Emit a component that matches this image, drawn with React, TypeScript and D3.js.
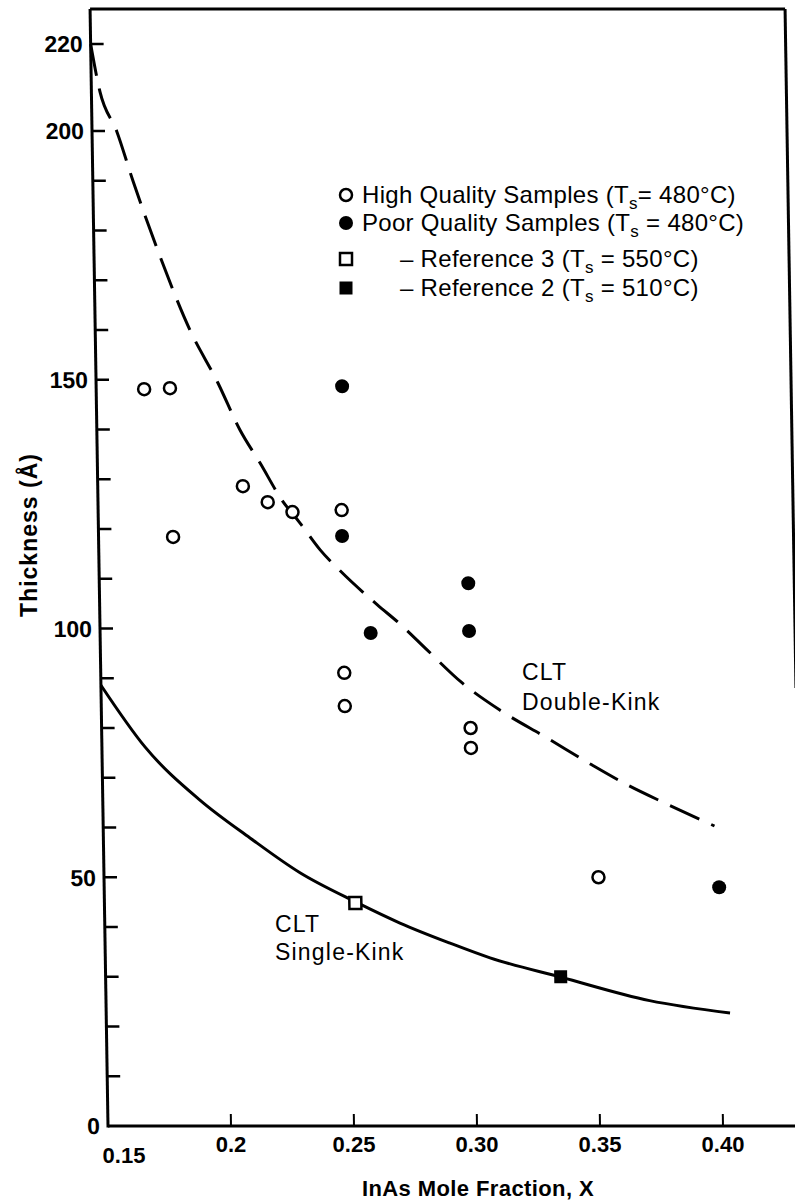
import React from "react";
import * as d3 from "d3";

// ---- data ----
const xTickValues = [0.2, 0.25, 0.3, 0.35, 0.4];
const xTickLabels = ["0.2", "0.25", "0.30", "0.35", "0.40"];
const yTickValues = [10, 20, 30, 40, 50, 60, 70, 80, 90, 100, 110, 120, 130, 140, 150, 160, 170, 180, 190, 200, 220];
const yLabelValues = [0, 50, 100, 150, 200, 220];

const highX = [0.1695, 0.18, 0.1803, 0.209, 0.219, 0.229, 0.249, 0.249, 0.249, 0.3, 0.3, 0.351];
const highY = [148.1, 148.3, 118.4, 128.6, 125.4, 123.4, 123.8, 91.1, 84.4, 80.0, 76.0, 50.0];

const poorX = [0.25, 0.249, 0.26, 0.3, 0.3, 0.4];
const poorY = [148.7, 118.6, 99.1, 109.1, 99.5, 48.0];

const ref3X = [0.252];
const ref3Y = [44.8];
const ref2X = [0.335];
const ref2Y = [30.0];

const doubleX = [0.15, 0.1535, 0.16, 0.1663, 0.1756, 0.1885, 0.1996, 0.2082, 0.2161, 0.2248, 0.232, 0.24, 0.248, 0.2628, 0.272, 0.2828, 0.297, 0.312, 0.331, 0.349, 0.3636, 0.3785, 0.3985];
const doubleY = [220, 209, 200, 190, 176.5, 160, 149.3, 139.9, 133.3, 125.8, 121.2, 115.8, 111.6, 104.8, 100.9, 95.7, 89.0, 83.6, 78.0, 72.6, 68.5, 64.9, 60.3];

const singleX = [0.15, 0.1675, 0.1895, 0.2096, 0.2297, 0.2523, 0.27, 0.29, 0.3064, 0.3352, 0.371, 0.4036];
const singleY = [88.6, 76.2, 65.5, 57.9, 50.9, 45.0, 40.8, 36.8, 33.8, 29.9, 25.2, 22.7];

// ---- scales ----
const x = d3.scaleLinear().domain([0.15, 0.4]).range([108, 723]);
const y = d3.scaleLinear().domain([0, 200, 220]).range([1126, 131, 44]);

const X0 = 108;
const Y0 = 1126;
const TOP = 9;
const RIGHT = 803;

const lineGen = (xs: number[], ys: number[]) =>
  d3
    .line<number>()
    .x((_, i) => x(xs[i]))
    .y((_, i) => y(ys[i]))
    .curve(d3.curveMonotoneX)(xs.map((_, i) => i)) || "";

const FONT = "'Liberation Sans', Arial, Helvetica, sans-serif";

function LegendRow({ yb, marker, text, sub, rest, textX }: any) {
  const mx = 346;
  const my = yb - 8;
  let m = null;
  if (marker === "open") m = <circle cx={mx} cy={my} r={6} fill="#fff" stroke="#000" strokeWidth={2.5} />;
  if (marker === "filled") m = <circle cx={mx} cy={my} r={7} fill="#000" />;
  if (marker === "osq") m = <rect x={mx - 6} y={my - 6} width={12} height={12} fill="#fff" stroke="#000" strokeWidth={2.5} />;
  if (marker === "fsq") m = <rect x={mx - 6.5} y={my - 6.5} width={13} height={13} fill="#000" />;
  return (
    <g>
      {m}
      <text x={textX} y={yb} fontFamily={FONT} fontSize={24} letterSpacing={0.3} fill="#000">
        {text}
        <tspan fontSize={17} dy={6}>{sub}</tspan>
        <tspan dy={-6}>{rest}</tspan>
      </text>
    </g>
  );
}

export default function App() {
  const shear = `translate(0,${Y0}) skewX(0.92) translate(0,${-Y0})`;
  return (
    <svg
      width={795}
      height={1201}
      viewBox="0 0 795 1201"
      style={{ position: "absolute", left: 0, top: 0, display: "block", background: "#fff" }}
    >
      <rect x={0} y={0} width={795} height={1201} fill="#fff" />
      <g transform={shear}>
        {/* frame */}
        <line x1={X0} y1={TOP} x2={X0} y2={Y0 + 1.5} stroke="#000" strokeWidth={3} />
        <line x1={X0} y1={Y0} x2={820} y2={Y0} stroke="#000" strokeWidth={3} />
        <line x1={X0} y1={TOP} x2={RIGHT} y2={TOP} stroke="#000" strokeWidth={3} />
        <line x1={RIGHT} y1={TOP} x2={RIGHT} y2={688} stroke="#000" strokeWidth={3} />

        {/* y ticks */}
        {yTickValues.map((v) => (
          <line key={"yt" + v} x1={X0} x2={X0 + 13} y1={y(v)} y2={y(v)} stroke="#000" strokeWidth={2.5} />
        ))}
        {yLabelValues.map((v) => (
          <text
            key={"yl" + v}
            x={X0 - 8}
            y={y(v)}
            dy="0.36em"
            textAnchor="end"
            fontFamily={FONT}
            fontWeight="bold"
            fontSize={23}
            fill="#000"
          >
            {v}
          </text>
        ))}

        {/* x ticks */}
        {xTickValues.map((v) => (
          <line key={"xt" + v} x1={x(v)} x2={x(v)} y1={Y0} y2={Y0 - 12} stroke="#000" strokeWidth={2} />
        ))}

        {/* curves */}
        <path d={lineGen(doubleX, doubleY)} fill="none" stroke="#000" strokeWidth={3} strokeDasharray="32,13" />
        <path d={lineGen(singleX, singleY)} fill="none" stroke="#000" strokeWidth={3} />

        {/* points */}
        {highX.map((v, i) => (
          <circle key={"h" + i} cx={x(v)} cy={y(highY[i])} r={6} fill="#fff" stroke="#000" strokeWidth={2.5} />
        ))}
        {poorX.map((v, i) => (
          <circle key={"p" + i} cx={x(v)} cy={y(poorY[i])} r={7} fill="#000" />
        ))}
        {ref3X.map((v, i) => (
          <rect key={"r3" + i} x={x(v) - 6} y={y(ref3Y[i]) - 6} width={12} height={12} fill="#fff" stroke="#000" strokeWidth={2.5} />
        ))}
        {ref2X.map((v, i) => (
          <rect key={"r2" + i} x={x(v) - 6.5} y={y(ref2Y[i]) - 6.5} width={13} height={13} fill="#000" />
        ))}
      </g>

      {/* x tick labels */}
      {xTickLabels.map((t, i) => (
        <text
          key={"xl" + t}
          x={x(xTickValues[i])}
          y={1152}
          textAnchor="middle"
          fontFamily={FONT}
          fontWeight="bold"
          fontSize={22}
          fill="#000"
        >
          {t}
        </text>
      ))}
      <text x={x(0.15) + 16} y={1163} textAnchor="middle" fontFamily={FONT} fontWeight="bold" fontSize={22} fill="#000">
        0.15
      </text>

      {/* axis titles */}
      <text x={478} y={1196} textAnchor="middle" fontFamily={FONT} fontWeight="bold" fontSize={22} letterSpacing={0.4} fill="#000">
        InAs Mole Fraction, X
      </text>
      <text
        transform="translate(37,535) rotate(-90)"
        textAnchor="middle"
        fontFamily={FONT}
        fontWeight="bold"
        fontSize={23}
        letterSpacing={1}
        fill="#000"
      >
        Thickness (Å)
      </text>

      {/* curve labels */}
      <text x={522} y={680} fontFamily={FONT} fontSize={23} letterSpacing={1.2} fill="#000">CLT</text>
      <text x={522} y={710} fontFamily={FONT} fontSize={23} letterSpacing={1.2} fill="#000">Double-Kink</text>
      <text x={275} y={932} fontFamily={FONT} fontSize={23} letterSpacing={1.2} fill="#000">CLT</text>
      <text x={275} y={960} fontFamily={FONT} fontSize={23} letterSpacing={1.2} fill="#000">Single-Kink</text>

      {/* legend */}
      <LegendRow yb={203} marker="open" textX={362} text="High Quality Samples (T" sub="s" rest="= 480°C)" />
      <LegendRow yb={231} marker="filled" textX={362} text="Poor Quality Samples (T" sub="s" rest="  = 480°C)" />
      <LegendRow yb={267} marker="osq" textX={400} text="– Reference 3 (T" sub="s" rest=" = 550°C)" />
      <LegendRow yb={296} marker="fsq" textX={400} text="– Reference 2 (T" sub="s" rest=" = 510°C)" />
    </svg>
  );
}
